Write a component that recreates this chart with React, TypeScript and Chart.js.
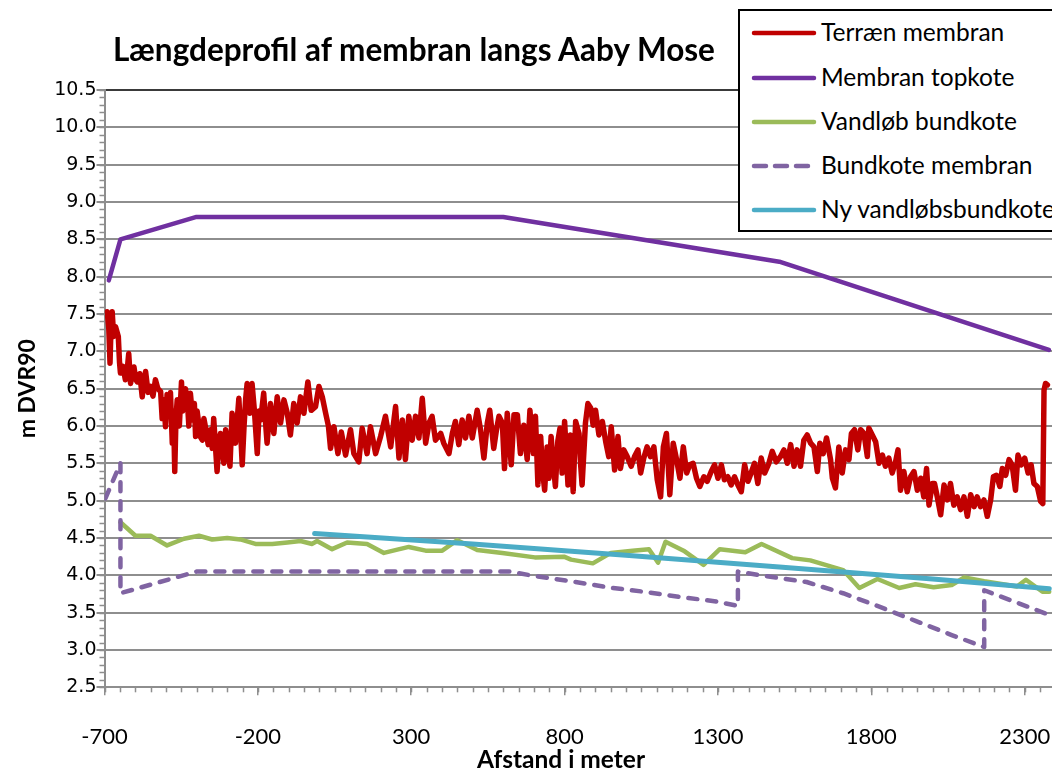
import React, { useEffect, useRef } from "react";
import { Chart, registerables } from "chart.js";

Chart.register(...registerables);

const TITLE = "Længdeprofil af membran langs Aaby Mose";
const X_TITLE = "Afstand i meter";
const Y_TITLE = "m DVR90";

const X_MIN = -700;
const X_MAX = 2389;
const X_TICKS = [-700, -200, 300, 800, 1300, 1800, 2300];
const Y_MIN = 2.5;
const Y_MAX = 10.5;
const Y_TICKS = [2.5, 3.0, 3.5, 4.0, 4.5, 5.0, 5.5, 6.0, 6.5, 7.0, 7.5, 8.0, 8.5, 9.0, 9.5, 10.0, 10.5];
const X_MINOR_STEP = 50;
const Y_MINOR_STEP = 0.1;

const SERIES_NAMES = [
  "Terræn membran",
  "Membran topkote",
  "Vandløb bundkote",
  "Bundkote membran",
  "Ny vandløbsbundkote",
];
const SERIES_COLORS = ["#C00000", "#7030A0", "#9BBB59", "#8064A2", "#4BACC6"];

// Terræn membran (distance m, level m DVR90)
const terrain: [number, number][] = [
  [-691, 7.53], [-686, 7.3], [-682, 6.84], [-678, 7.45], [-675, 7.53], [-670, 7.2], [-664, 7.33], [-655, 7.2],
  [-651, 6.85], [-648, 6.71], [-640, 6.8], [-632, 6.62], [-626, 6.75], [-621, 6.97], [-615, 6.57], [-610, 6.7],
  [-604, 6.79], [-598, 6.62], [-593, 6.59], [-585, 6.7], [-577, 6.39], [-572, 6.6], [-566, 6.73], [-558, 6.45],
  [-550, 6.53], [-542, 6.4], [-534, 6.62], [-526, 6.5], [-517, 6.46], [-512, 6.1], [-507, 6.35], [-501, 5.99],
  [-496, 6.42], [-490, 6.2], [-485, 6.45], [-479, 5.77], [-475, 6.2], [-471, 5.39], [-467, 6.1], [-463, 6.35],
  [-456, 6.0], [-449, 6.59], [-445, 6.2], [-441, 6.26], [-436, 6.5], [-430, 6.35], [-425, 6.0], [-420, 6.44],
  [-412, 6.08], [-407, 6.3], [-403, 5.86], [-398, 6.2], [-393, 6.04], [-387, 5.85], [-381, 5.81], [-376, 6.1],
  [-371, 5.99], [-362, 5.75], [-354, 5.95], [-349, 5.7], [-344, 6.1],
  [-333, 5.39], [-327, 5.8], [-322, 5.9], [-311, 5.5], [-305, 5.95], [-300, 5.77], [-291, 5.46], [-284, 6.17],
  [-278, 5.9], [-273, 5.77], [-262, 6.37], [-256, 5.9], [-251, 5.48], [-245, 6.0], [-240, 6.35], [-235, 6.57],
  [-226, 6.17], [-219, 6.57], [-211, 6.19], [-202, 5.63], [-196, 6.2], [-191, 6.08], [-181, 6.44], [-175, 6.05],
  [-170, 5.77], [-159, 6.3], [-148, 5.9], [-137, 6.39], [-126, 6.04], [-115, 6.35], [-104, 6.17], [-94, 5.88],
  [-83, 6.3], [-72, 6.04], [-61, 6.39], [-50, 6.17], [-37, 6.59], [-26, 6.21], [-12, 6.26], [-1, 6.53],
  [10, 6.39], [21, 6.17], [30, 6.0], [37, 5.7], [48, 5.99], [61, 5.63], [72, 5.92], [86, 5.61],
  [102, 5.95], [113, 5.63], [129, 5.52], [140, 5.97], [156, 5.63], [167, 5.99], [184, 5.63], [200, 5.86],
  [216, 6.13], [233, 5.72], [249, 6.26], [260, 5.57], [271, 6.08], [281, 5.55], [292, 6.13], [303, 5.81],
  [314, 6.13], [325, 5.84], [336, 6.37], [347, 5.77], [358, 6.04], [368, 6.13], [379, 5.81], [396, 5.9],
  [406, 5.77], [423, 5.63], [434, 5.9], [444, 6.06], [455, 5.75], [466, 6.08], [477, 5.84], [488, 6.13],
  [499, 5.84], [515, 6.21], [526, 5.95], [537, 5.57], [548, 6.04], [556, 6.21], [569, 5.7], [578, 5.95],
  [586, 6.13], [597, 6.04], [604, 5.43], [613, 6.17], [626, 5.48], [635, 6.15], [646, 6.15], [656, 5.63],
  [667, 6.01], [678, 5.55], [687, 6.21], [698, 5.63], [705, 6.13], [713, 5.21], [718, 5.7], [722, 5.86],
  [728, 5.4], [735, 5.14], [743, 5.72], [749, 5.3], [756, 5.86], [763, 5.5], [770, 5.19], [778, 5.8],
  [785, 5.97], [792, 5.37], [800, 6.06], [806, 5.6], [811, 5.21], [819, 5.88], [828, 5.12], [836, 6.06],
  [847, 5.9], [852, 5.5], [857, 5.21], [868, 6.04], [876, 6.3], [885, 6.24], [893, 6.01], [901, 6.21],
  [912, 5.88], [923, 6.06], [934, 5.79], [944, 5.59], [952, 5.99], [963, 5.41], [974, 5.86], [982, 5.43],
  [993, 5.68], [1004, 5.59], [1017, 5.46], [1028, 5.59], [1039, 5.68], [1048, 5.37], [1058, 5.57], [1069, 5.72],
  [1080, 5.59], [1091, 5.72], [1102, 5.28], [1113, 5.05], [1122, 5.72], [1132, 5.9], [1143, 5.08], [1154, 5.77],
  [1165, 5.55], [1176, 5.3], [1187, 5.72], [1198, 5.37], [1208, 5.48], [1219, 5.5], [1230, 5.3], [1241, 5.19],
  [1254, 5.32], [1265, 5.26], [1278, 5.39], [1289, 5.48], [1300, 5.3], [1311, 5.48], [1321, 5.28], [1332, 5.32],
  [1343, 5.21], [1354, 5.32], [1365, 5.21], [1376, 5.12], [1387, 5.48], [1398, 5.26], [1408, 5.37], [1419, 5.5],
  [1430, 5.23], [1441, 5.57], [1452, 5.37], [1466, 5.5], [1477, 5.66], [1490, 5.52],
  [1504, 5.59], [1515, 5.68], [1526, 5.5], [1537, 5.75], [1548, 5.46], [1558, 5.68], [1569, 5.46], [1580, 5.81],
  [1591, 5.88], [1602, 5.77], [1613, 5.72], [1624, 5.39], [1632, 5.77], [1643, 5.63], [1654, 5.84], [1667, 5.55],
  [1673, 5.3], [1683, 5.17], [1694, 5.72], [1705, 5.37], [1716, 5.68], [1727, 5.55], [1735, 5.9], [1745, 5.95],
  [1756, 5.68], [1765, 5.95], [1776, 5.9], [1787, 5.59], [1792, 5.97], [1803, 5.88], [1814, 5.79], [1825, 5.5],
  [1836, 5.61], [1846, 5.46], [1857, 5.57], [1868, 5.37], [1879, 5.52], [1887, 5.68], [1895, 5.14], [1906, 5.39],
  [1917, 5.12], [1928, 5.32], [1939, 5.39], [1950, 5.14], [1961, 5.3], [1971, 5.05], [1980, 5.43], [1988, 4.94],
  [1999, 5.23], [2006, 5.23], [2015, 5.05], [2026, 4.81], [2037, 5.21], [2048, 5.01], [2058, 5.23], [2069, 4.94],
  [2080, 5.05], [2091, 4.88], [2102, 5.05], [2113, 4.79], [2124, 5.08], [2135, 4.92], [2145, 5.05], [2156, 4.92],
  [2167, 5.01], [2178, 4.79], [2189, 5.01], [2198, 5.32], [2208, 5.34], [2219, 5.19], [2227, 5.43], [2238, 5.34],
  [2249, 5.55], [2259, 5.48], [2270, 5.14], [2278, 5.61], [2289, 5.48], [2300, 5.57], [2311, 5.37], [2321, 5.48],
  [2330, 5.23], [2341, 5.19], [2352, 4.99], [2359, 4.96], [2363, 6.48], [2368, 6.57], [2374, 6.55],
];

// Membran topkote
const topkote: [number, number][] = [
  [-686, 7.95], [-648, 8.5], [-400, 8.8], [600, 8.8], [1500, 8.2], [2379, 7.02],
];

// Vandløb bundkote
const vandloebBundkote: [number, number][] = [
  [-648, 4.71], [-599, 4.53], [-550, 4.53], [-496, 4.4], [-441, 4.49], [-392, 4.53], [-349, 4.48], [-300, 4.5],
  [-257, 4.48], [-208, 4.42], [-153, 4.42], [-104, 4.44], [-61, 4.46], [-23, 4.42], [-7, 4.46], [42, 4.35],
  [91, 4.44], [156, 4.42], [211, 4.3], [292, 4.38], [347, 4.33], [401, 4.33], [450, 4.47], [515, 4.34],
  [597, 4.3], [703, 4.24], [798, 4.25], [821, 4.21], [892, 4.16], [951, 4.3], [1022, 4.33], [1075, 4.35],
  [1105, 4.17], [1129, 4.45], [1188, 4.33], [1253, 4.14], [1306, 4.35], [1389, 4.31], [1442, 4.42], [1542, 4.23],
  [1601, 4.2], [1708, 4.07], [1761, 3.83], [1820, 3.95], [1891, 3.83], [1944, 3.88], [2003, 3.84], [2062, 3.87],
  [2103, 3.97], [2168, 3.92], [2275, 3.85], [2304, 3.94], [2358, 3.78], [2380, 3.78],
];

// Bundkote membran
const bundkoteMembran: [number, number][] = [
  [-697, 5.03], [-648, 5.5], [-648, 3.76], [-400, 4.05], [620, 4.05], [703, 3.99], [821, 3.92], [940, 3.84],
  [1058, 3.78], [1176, 3.71], [1294, 3.65], [1365, 3.59], [1365, 4.05], [1471, 3.98], [1589, 3.91], [1708, 3.76],
  [1826, 3.58], [1944, 3.39], [2062, 3.2], [2168, 3.04], [2168, 3.8], [2380, 3.47],
];

// Ny vandløbsbundkote
const nyVandloebsbundkote: [number, number][] = [
  [-15, 4.56], [500, 4.42], [1000, 4.27], [1500, 4.11], [2000, 3.95], [2380, 3.82],
];

const GRID = "#8e8e8e";
const TOP_LINE = "#3a3a3a";

const minorTicksPlugin = {
  id: "minorTicks",
  afterDraw(chart: any) {
    const { ctx } = chart;
    const xs = chart.scales.x;
    const ys = chart.scales.y;
    ctx.save();
    ctx.strokeStyle = GRID;
    ctx.lineWidth = 1.5;
    const nx = Math.floor((X_MAX - X_MIN) / X_MINOR_STEP);
    for (let i = 0; i <= nx; i++) {
      const px = Math.round(xs.getPixelForValue(X_MIN + i * X_MINOR_STEP)) + 0.5;
      ctx.beginPath();
      ctx.moveTo(px, ys.bottom);
      ctx.lineTo(px, ys.bottom + 5);
      ctx.stroke();
    }
    const ny = Math.round((Y_MAX - Y_MIN) / Y_MINOR_STEP);
    for (let i = 0; i <= ny; i++) {
      const py = Math.round(ys.getPixelForValue(Y_MIN + i * Y_MINOR_STEP)) + 0.5;
      ctx.beginPath();
      ctx.moveTo(xs.left, py);
      ctx.lineTo(xs.left - 5, py);
      ctx.stroke();
    }
    ctx.restore();
  },
};

const toXY = (arr: [number, number][]) => arr.map(([x, y]) => ({ x, y }));

const LEGEND_ROWS = [33.3, 77.5, 121.7, 165.9, 210];

export default function App() {
  const ref = useRef<HTMLCanvasElement>(null);

  useEffect(() => {
    const common = {
      showLine: true,
      pointRadius: 0,
      pointHoverRadius: 0,
      tension: 0,
      borderJoinStyle: "round",
      borderCapStyle: "round",
      fill: false,
    };
    const chart = new Chart(ref.current as HTMLCanvasElement, {
      type: "scatter",
      data: {
        datasets: [
          { ...common, label: SERIES_NAMES[0], data: toXY(terrain), borderColor: SERIES_COLORS[0], backgroundColor: SERIES_COLORS[0], borderWidth: 5.5, order: 5 },
          { ...common, label: SERIES_NAMES[1], data: toXY(topkote), borderColor: SERIES_COLORS[1], backgroundColor: SERIES_COLORS[1], borderWidth: 4.5, order: 4 },
          { ...common, label: SERIES_NAMES[2], data: toXY(vandloebBundkote), borderColor: SERIES_COLORS[2], backgroundColor: SERIES_COLORS[2], borderWidth: 4.5, order: 3 },
          { ...common, label: SERIES_NAMES[3], data: toXY(bundkoteMembran), borderColor: SERIES_COLORS[3], backgroundColor: SERIES_COLORS[3], borderWidth: 4.5, borderDash: [9, 10], order: 2 },
          { ...common, label: SERIES_NAMES[4], data: toXY(nyVandloebsbundkote), borderColor: SERIES_COLORS[4], backgroundColor: SERIES_COLORS[4], borderWidth: 5, order: 1 },
        ] as any,
      },
      options: {
        responsive: false,
        maintainAspectRatio: false,
        animation: false,
        devicePixelRatio: 1,
        events: [],
        layout: { padding: { top: 90, left: 0, right: 0, bottom: 0 } },
        plugins: {
          legend: { display: false },
          title: { display: false },
          tooltip: { enabled: false },
        },
        scales: {
          x: {
            type: "linear",
            min: X_MIN,
            max: X_MAX,
            afterFit: (s: any) => {
              s.height = 83.7;
              s.paddingLeft = 0;
              s.paddingRight = 0;
            },
            afterBuildTicks: (s: any) => {
              s.ticks = X_TICKS.map((v) => ({ value: v }));
            },
            ticks: {
              autoSkip: false,
              maxRotation: 0,
              minRotation: 0,
              padding: 28,
              color: "#000",
              font: { family: "Lato", size: 22 },
              callback: (v: any) => String(v),
            },
            grid: { drawOnChartArea: false, drawTicks: true, tickLength: 8, color: GRID, lineWidth: 1.5 },
            border: { display: true, color: GRID, width: 2 },
          },
          y: {
            type: "linear",
            min: Y_MIN,
            max: Y_MAX,
            afterFit: (s: any) => {
              s.width = 104.5;
              s.paddingTop = 0;
              s.paddingBottom = 0;
            },
            afterBuildTicks: (s: any) => {
              s.ticks = Y_TICKS.map((v) => ({ value: v }));
            },
            ticks: {
              autoSkip: false,
              padding: 0,
              color: "#000",
              font: { family: "DejaVu Sans", size: 19 },
              callback: (v: any) => Number(v).toFixed(1),
            },
            grid: {
              drawOnChartArea: true,
              drawTicks: true,
              tickLength: 8,
              lineWidth: 2,
              color: (c: any) => (c.tick && c.tick.value === Y_MAX ? TOP_LINE : GRID),
              tickColor: GRID,
            },
            border: { display: true, color: GRID, width: 2 },
            title: {
              display: true,
              text: Y_TITLE,
              color: "#000",
              font: { family: "Lato", size: 23, weight: "bold" },
              padding: { top: 14, bottom: 0 },
            },
          },
        },
      } as any,
      plugins: [minorTicksPlugin],
    });
    return () => chart.destroy();
  }, []);

  return (
    <div
      style={{
        position: "absolute",
        left: 0,
        top: 0,
        width: 1052,
        height: 771,
        overflow: "hidden",
        background: "#fff",
        fontFamily: "Lato, sans-serif",
      }}
    >
      <canvas ref={ref} width={1052} height={771} style={{ position: "absolute", left: 0, top: 0, display: "block" }} />
      <div
        style={{
          position: "absolute",
          left: 113,
          top: 31,
          fontSize: 31.5,
          lineHeight: "36px",
          fontWeight: 700,
          whiteSpace: "nowrap",
          color: "#000",
        }}
      >
        {TITLE}
      </div>
      <div
        style={{
          position: "absolute",
          left: 561,
          top: 744,
          transform: "translateX(-50%)",
          fontSize: 24.5,
          lineHeight: "30px",
          fontWeight: 700,
          whiteSpace: "nowrap",
          color: "#000",
        }}
      >
        {X_TITLE}
      </div>
      <div
        style={{
          position: "absolute",
          left: 738,
          top: 9,
          width: 340,
          height: 223,
          boxSizing: "border-box",
          border: "2px solid #000",
          background: "#fff",
        }}
      />
      {SERIES_NAMES.map((name, i) => (
        <React.Fragment key={name}>
          <svg
            width={70}
            height={12}
            style={{ position: "absolute", left: 748, top: LEGEND_ROWS[i] - 6 }}
          >
            <line
              x1={6}
              y1={6}
              x2={66}
              y2={6}
              stroke={SERIES_COLORS[i]}
              strokeWidth={4.5}
              strokeLinecap="round"
              strokeDasharray={i === 3 ? "12 9" : undefined}
            />
          </svg>
          <div
            style={{
              position: "absolute",
              left: 821,
              top: LEGEND_ROWS[i] - 15,
              fontSize: 24.5,
              lineHeight: "28px",
              whiteSpace: "nowrap",
              color: "#000",
            }}
          >
            {name}
          </div>
        </React.Fragment>
      ))}
    </div>
  );
}
